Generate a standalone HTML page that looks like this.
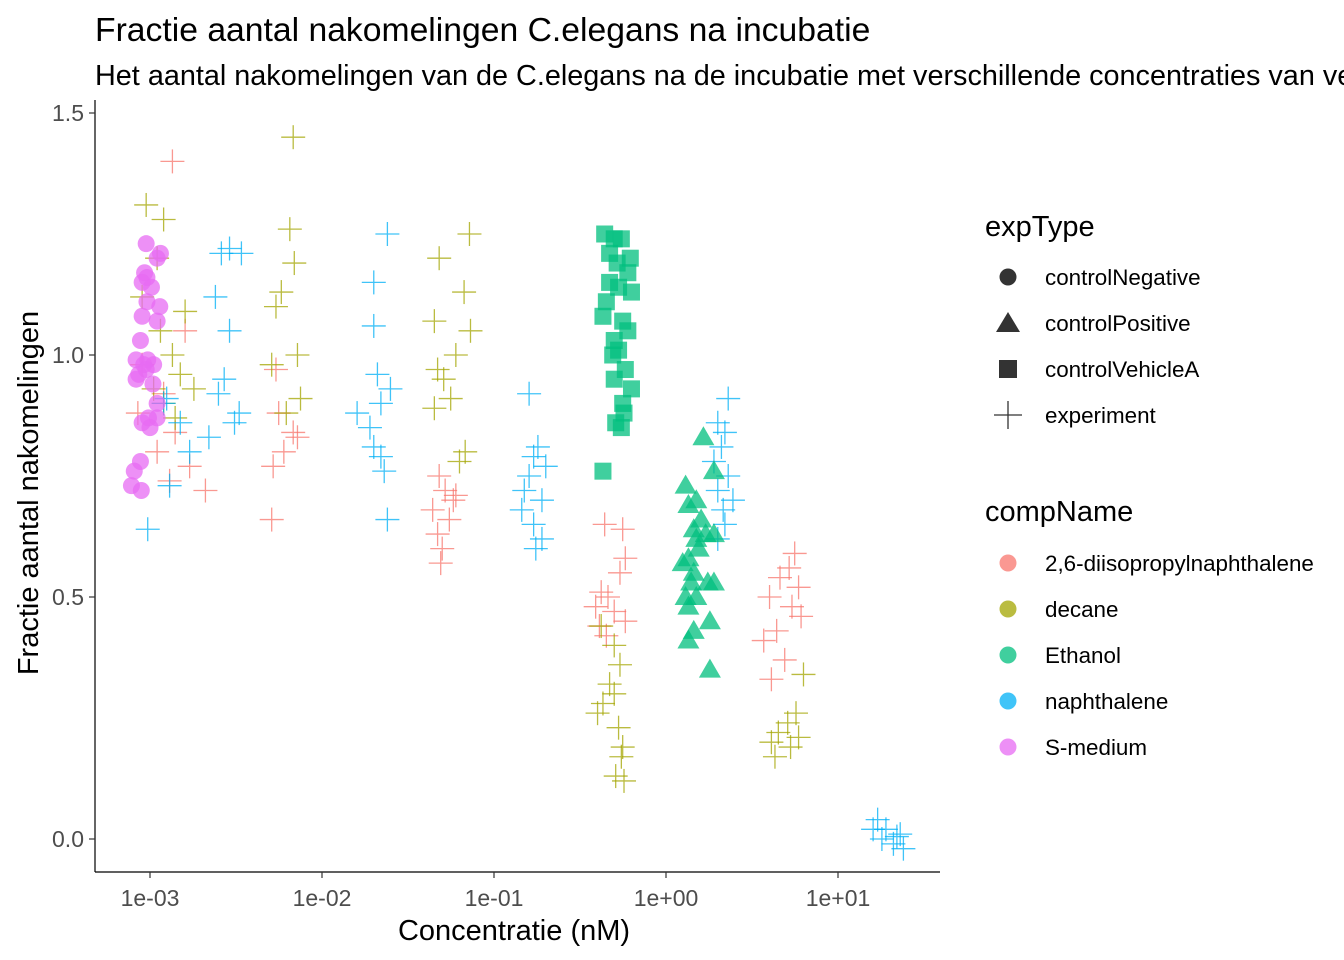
<!DOCTYPE html>
<html><head><meta charset="utf-8"><style>
body{margin:0;background:#fff;overflow:hidden;}
svg{display:block;font-family:"Liberation Sans",Arial,sans-serif;}
</style></head><body>
<svg id="chart" width="1344" height="960" viewBox="0 0 1344 960">
<text x="95" y="41" font-size="33.7" fill="#000">Fractie aantal nakomelingen C.elegans na incubatie</text>
<text x="95" y="85" font-size="28.8" fill="#000">Het aantal nakomelingen van de C.elegans na de incubatie met verschillende concentraties van verschillende stoffen</text>
<g id="plot"></g>
<line x1="95" y1="100" x2="95" y2="872" stroke="#000" stroke-width="1.2"/>
<line x1="95" y1="872" x2="940" y2="872" stroke="#000" stroke-width="1.2"/>
<g id="axes"></g>
<text x="514" y="940" font-size="29" text-anchor="middle">Concentratie (nM)</text>
<text transform="translate(38,493) rotate(-90)" font-size="29" text-anchor="middle">Fractie aantal nakomelingen</text>
<g id="legend"></g>
</svg>
<script>
const colors = {dip:"#F8766D", decane:"#A3A500", ethanol:"#00BF7D", naph:"#00B0F6", smed:"#E76BF3"};
const compNames = ["2,6-diisopropylnaphthalene","decane","Ethanol","naphthalene","S-medium"];
const compKeys = ["dip","decane","ethanol","naph","smed"];
const expTypes = ["controlNegative","controlPositive","controlVehicleA","experiment"];
const xTicks = [0.001,0.01,0.1,1,10];
const xTickLabels = ["1e-03","1e-02","1e-01","1e+00","1e+01"];
const yTicks = [0,0.5,1.0,1.5];
const yTickLabels = ["0.0","0.5","1.0","1.5"];

const smedPts = [[0.00095,1.23],[0.00115,1.21],[0.0011,1.20],[0.00093,1.17],[0.00096,1.16],[0.0009,1.15],[0.00102,1.14],[0.00096,1.11],[0.00114,1.10],[0.0009,1.08],[0.0011,1.07],[0.00088,1.03],[0.00083,0.99],[0.00097,0.99],[0.00092,0.98],[0.00105,0.98],[0.00095,0.97],[0.00086,0.96],[0.00083,0.95],[0.00104,0.94],[0.0011,0.90],[0.00098,0.87],[0.0011,0.87],[0.0009,0.86],[0.001,0.85],[0.00088,0.78],[0.00081,0.76],[0.00078,0.73],[0.00089,0.72]];
const posPts = [[1.65,0.83],[1.9,0.76],[1.3,0.73],[1.5,0.70],[1.35,0.69],[1.6,0.66],[1.45,0.64],[1.7,0.63],[1.9,0.63],[1.5,0.62],[1.55,0.60],[1.35,0.58],[1.25,0.57],[1.45,0.55],[1.75,0.53],[1.4,0.53],[1.9,0.53],[1.3,0.50],[1.5,0.50],[1.35,0.48],[1.8,0.45],[1.45,0.43],[1.35,0.41],[1.8,0.35]];
const vehPts = [[0.44,1.25],[0.5,1.24],[0.55,1.24],[0.47,1.21],[0.62,1.20],[0.52,1.19],[0.6,1.17],[0.47,1.15],[0.53,1.14],[0.63,1.13],[0.45,1.11],[0.43,1.08],[0.56,1.07],[0.6,1.05],[0.5,1.03],[0.53,1.01],[0.49,1.00],[0.58,0.97],[0.5,0.95],[0.63,0.93],[0.56,0.90],[0.57,0.88],[0.51,0.86],[0.55,0.85],[0.43,0.76]];
const dipPts = [[0.00135,1.40],[0.0016,1.05],[0.0009,0.98],[0.0012,0.92],[0.00085,0.88],[0.0014,0.84],[0.0011,0.80],[0.0017,0.77],[0.0013,0.74],[0.0021,0.72],
 [0.0054,0.97],[0.0056,0.88],[0.0068,0.84],[0.006,0.80],[0.0052,0.77],[0.0051,0.66],[0.0072,0.83],
 [0.048,0.75],[0.052,0.72],[0.058,0.70],[0.044,0.68],[0.055,0.66],[0.047,0.63],[0.05,0.60],[0.049,0.57],[0.06,0.71],
 [0.44,0.65],[0.56,0.64],[0.58,0.58],[0.54,0.55],[0.42,0.51],[0.46,0.50],[0.39,0.48],[0.5,0.47],[0.58,0.45],[0.41,0.44],[0.45,0.42],
 [5.6,0.59],[5.2,0.56],[4.6,0.54],[5.9,0.52],[4.0,0.50],[5.4,0.48],[6.1,0.46],[4.4,0.43],[3.7,0.41],[4.9,0.37],[4.1,0.33]];
const decanePts = [[0.00095,1.31],[0.0012,1.28],[0.0011,1.20],[0.0009,1.12],[0.00115,1.05],[0.00135,1.00],[0.0015,0.96],[0.00105,0.93],[0.0012,0.90],[0.0014,0.87],[0.0016,1.09],[0.0018,0.93],
 [0.0068,1.45],[0.0065,1.26],[0.0069,1.19],[0.0054,1.10],[0.0072,1.00],[0.0051,0.98],[0.0075,0.91],[0.0062,0.88],[0.0058,1.13],
 [0.072,1.25],[0.048,1.20],[0.067,1.13],[0.045,1.07],[0.073,1.05],[0.06,1.00],[0.047,0.97],[0.051,0.95],[0.056,0.91],[0.045,0.89],[0.068,0.80],[0.063,0.78],
 [0.42,0.44],[0.5,0.40],[0.54,0.36],[0.47,0.32],[0.5,0.30],[0.43,0.28],[0.4,0.26],[0.53,0.23],[0.56,0.19],[0.55,0.17],[0.51,0.13],[0.57,0.12],
 [6.3,0.34],[5.7,0.26],[5.1,0.24],[4.5,0.22],[5.9,0.21],[4.1,0.20],[5.3,0.19],[4.3,0.17]];
const naphPts = [[0.00097,0.64],[0.0013,0.73],[0.0017,0.80],[0.0015,0.86],[0.0012,0.90],[0.00125,0.91],
 [0.0029,1.22],[0.0026,1.21],[0.0034,1.21],[0.0024,1.12],[0.0029,1.05],[0.0027,0.95],[0.0025,0.92],[0.0033,0.88],[0.0031,0.86],[0.0022,0.83],
 [0.024,1.25],[0.02,1.15],[0.02,1.06],[0.021,0.96],[0.025,0.93],[0.022,0.90],[0.016,0.88],[0.019,0.85],[0.02,0.81],[0.022,0.79],[0.023,0.76],[0.024,0.66],
 [0.16,0.92],[0.18,0.81],[0.17,0.79],[0.2,0.77],[0.16,0.75],[0.15,0.72],[0.19,0.70],[0.145,0.68],[0.17,0.65],[0.19,0.62],[0.175,0.60],
 [2.3,0.91],[2.0,0.86],[2.2,0.84],[2.1,0.81],[1.9,0.78],[2.3,0.75],[2.0,0.72],[2.45,0.70],[2.15,0.68],[2.2,0.65],[2.0,0.62],
 [17,0.04],[19,0.02],[23,0.01],[18,0.0],[21,-0.01],[24,-0.02],[16,0.02],[22,0.005]];

const X = v => 666 + 172*Math.log10(v);
const Y = v => 839 - 484*v;
const NS = "http://www.w3.org/2000/svg";
const plot = document.getElementById('plot');
function mk(tag, attrs, parent){const e=document.createElementNS(NS,tag);for(const k in attrs)e.setAttribute(k,attrs[k]);parent.appendChild(e);return e;}

function cross(p,col,par){
  const g=mk('g',{stroke:col,'stroke-width':1.3,opacity:0.75},par);
  
  
  const x=X(p[0]),y=Y(p[1]);
  mk('line',{x1:x-12,y1:y,x2:x+12,y2:y},g);mk('line',{x1:x,y1:y-12,x2:x,y2:y+12},g);
}
[[dipPts,colors.dip],[decanePts,colors.decane],[naphPts,colors.naph]].forEach(([arr,c])=>arr.forEach(p=>cross(p,c,plot)));
vehPts.forEach(p=>{const r=mk('rect',{x:X(p[0])-8.5,y:Y(p[1])-8.5,width:17,height:17,fill:colors.ethanol,opacity:0.75},plot);
  
  });
posPts.forEach(p=>{const x=X(p[0]),y=Y(p[1]);const t=mk('polygon',{points:`${x},${y-11} ${x-11},${y+8} ${x+11},${y+8}`,fill:colors.ethanol,opacity:0.75},plot);
  
  });
smedPts.forEach(p=>{const c=mk('circle',{cx:X(p[0]),cy:Y(p[1]),r:8.5,fill:colors.smed,opacity:0.75},plot);
  
  });

const axes=document.getElementById('axes');
xTicks.forEach((t,i)=>{const x=X(t);mk('line',{x1:x,y1:872,x2:x,y2:878,stroke:'#333','stroke-width':1.2},axes);
  const tx=mk('text',{x:x,y:906,'font-size':23,'text-anchor':'middle',fill:'#4D4D4D'},axes);tx.textContent=xTickLabels[i];
  
  });
yTicks.forEach((t,i)=>{const y=Y(t);mk('line',{x1:89,y1:y,x2:95,y2:y,stroke:'#333','stroke-width':1.2},axes);
  const tx=mk('text',{x:84,y:y+8,'font-size':23,'text-anchor':'end',fill:'#4D4D4D'},axes);tx.textContent=yTickLabels[i];
  
  });

const lg=document.getElementById('legend');
let t1=mk('text',{x:985,y:236,'font-size':29},lg);t1.textContent='expType';


expTypes.forEach((n,i)=>{const y=277+46*i,x=1008;
  if(i==0)mk('circle',{cx:x,cy:y,r:8.5,fill:'#333'},lg);
  if(i==1)mk('polygon',{points:`${x},${y-11} ${x-12},${y+9} ${x+12},${y+9}`,fill:'#333'},lg);
  if(i==2)mk('rect',{x:x-9,y:y-9,width:18,height:18,fill:'#333'},lg);
  if(i==3){mk('line',{x1:x-14,y1:y,x2:x+14,y2:y,stroke:'#333','stroke-width':1.3},lg);mk('line',{x1:x,y1:y-14,x2:x,y2:y+14,stroke:'#333','stroke-width':1.3},lg);}
  const t=mk('text',{x:1045,y:y+8,'font-size':22.4},lg);t.textContent=n;
  
  });
let t2=mk('text',{x:985,y:521,'font-size':29},lg);t2.textContent='compName';


compNames.forEach((n,i)=>{const y=563+46*i;
  mk('circle',{cx:1008,cy:y,r:8.5,fill:colors[compKeys[i]],opacity:0.75},lg);
  const t=mk('text',{x:1045,y:y+8,'font-size':22.4},lg);t.textContent=n;
  
  });
</script>
</body></html>
